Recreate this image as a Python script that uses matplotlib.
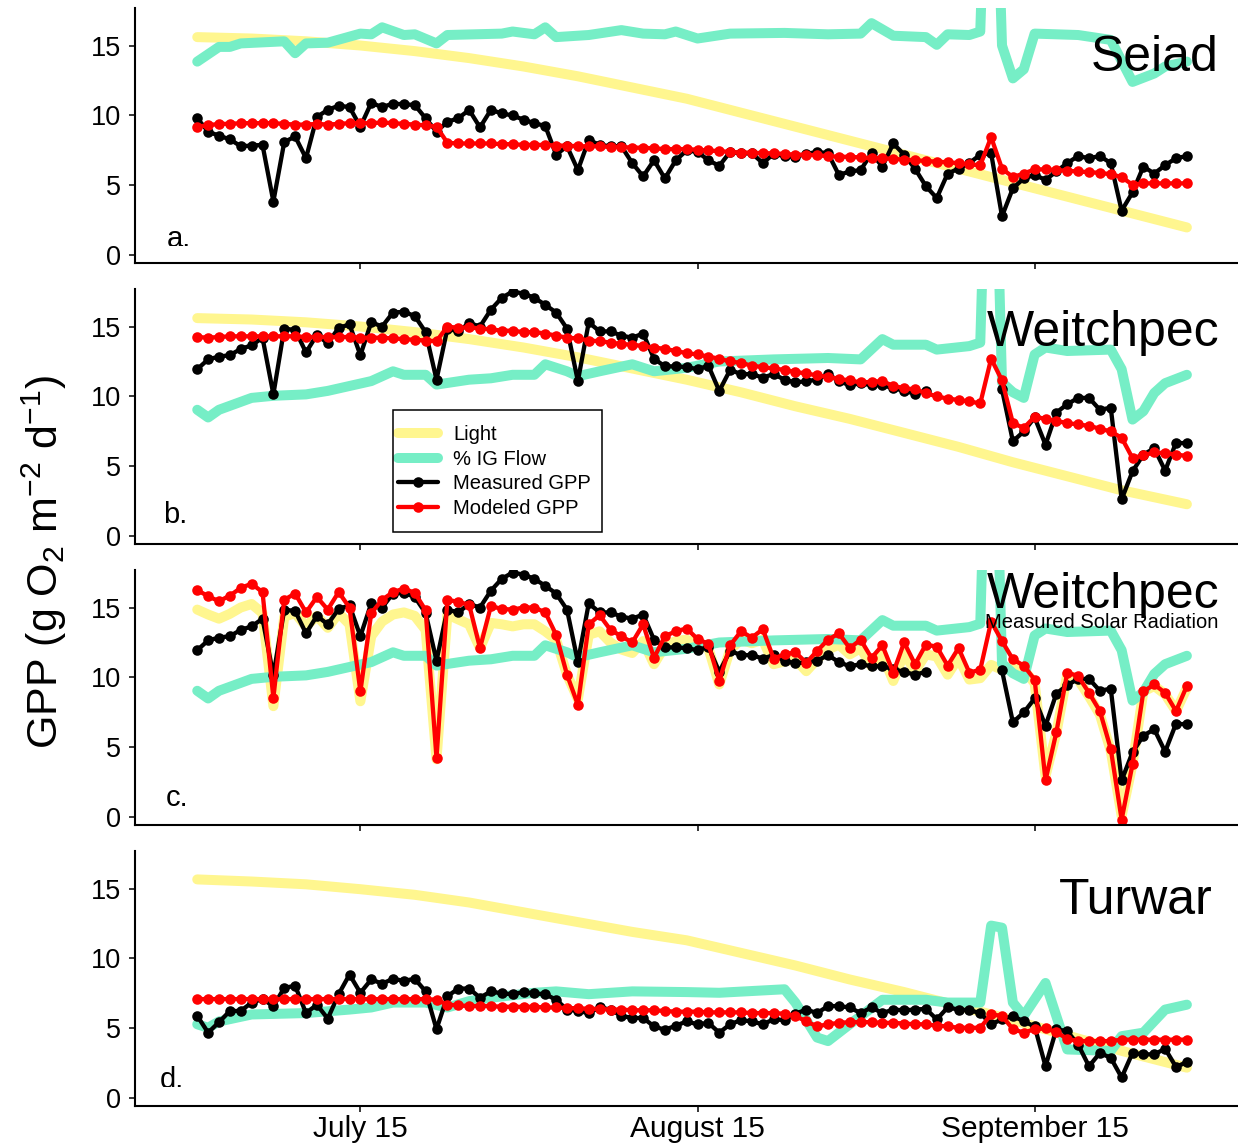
import numpy as np
import pandas as pd
import matplotlib
matplotlib.use("Agg")
import matplotlib.pyplot as plt
from matplotlib.lines import Line2D
from matplotlib.patches import Rectangle
from matplotlib.transforms import Bbox, TransformedBbox

plt.rcParams["font.family"] = ["Liberation Sans", "DejaVu Sans"]
plt.rcParams["mathtext.fontset"] = "custom"
plt.rcParams["mathtext.rm"] = "Liberation Sans"
plt.rcParams["mathtext.it"] = "Liberation Sans:italic"

start = pd.Timestamp("2013-06-30")
days = pd.date_range(start, periods=92, freq="D")

# clear-sky light (scaled), sampled every 5 days
light_days = [0, 5, 10, 15, 20, 25, 30, 35, 40, 45, 50, 55, 60, 65, 70, 75, 80, 85, 91]
light_seiad = [15.6, 15.5, 15.3, 15.0, 14.6, 14.1, 13.5, 12.8, 12.0, 11.2,
               10.2, 9.2, 8.2, 7.2, 6.2, 5.2, 4.2, 3.2, 2.0]
light_weitchpec = [15.6, 15.5, 15.3, 15.0, 14.6, 14.1, 13.5, 12.8, 12.0, 11.2,
                   10.3, 9.3, 8.4, 7.4, 6.4, 5.3, 4.3, 3.3, 2.3]
light_turwar = [15.65, 15.5, 15.3, 14.95, 14.55, 14.0, 13.3, 12.6, 11.9, 11.3,
                10.4, 9.5, 8.5, 7.6, 6.6, 5.6, 4.5, 3.4, 2.2]

# measured solar radiation at Weitchpec (daily, scaled)
light_measured = [14.85, 14.5, 14.2, 14.55, 15.0, 15.25, 14.6, 7.95, 14.35, 14.6,
                  13.65, 14.4, 13.55, 14.6, 13.8, 8.3, 12.95, 14.0, 14.5, 14.65,
                  14.4, 13.4, 4.15, 14.5, 14.15, 13.8, 12.1, 13.9, 13.8, 13.65,
                  13.8, 13.8, 13.3, 12.7, 10.2, 8.45, 13.05, 13.3, 12.5, 12.0,
                  11.75, 12.6, 10.95, 12.25, 12.6, 12.7, 12.35, 12.1, 9.5, 12.0,
                  12.7, 12.45, 12.7, 10.95, 11.15, 11.3, 10.45, 11.3, 12.0, 12.35,
                  11.65, 12.1, 10.8, 11.65, 9.75, 11.75, 10.45, 11.65, 11.5, 10.2,
                  11.4, 9.85, 9.95, 10.9, 10.55, 10.8, 10.55, 9.6, 2.95, 6.05,
                  10.2, 9.85, 8.65, 7.35, 4.75, 0.1, 3.8, 9.0, 9.4, 8.8,
                  7.6, 9.25]

# % inflow from groundwater (scaled)
flow_seiad_days = [0, 2, 3, 4, 8, 9, 10, 12, 15, 16, 17, 19, 20, 22, 23, 28, 29, 31,
                   32, 33, 36, 39, 41, 43, 44, 46, 49, 54, 58, 61, 62, 64, 67, 68,
                   69, 71, 72, 73, 74, 75, 76, 77, 81, 84, 86, 88, 89, 91]
flow_seiad = [13.85, 14.9, 14.9, 15.15, 15.3, 14.45, 15.15, 15.2, 15.85, 15.8, 16.3,
              15.75, 15.8, 15.15, 15.75, 15.85, 16.0, 15.8, 16.3, 15.6, 15.75, 16.1,
              15.85, 15.8, 16.0, 15.5, 15.85, 15.9, 15.8, 15.85, 16.6, 15.7, 15.6,
              15.05, 15.8, 15.75, 16.0, 40.0, 15.0, 12.65, 13.3, 15.85, 15.75, 15.4,
              12.4, 13.0, 13.5, 13.85]

flow_weitchpec_days = [0, 1, 2, 5, 7, 10, 12, 14, 16, 18, 19, 21, 22, 25, 27, 29, 31,
                       32, 34, 35, 37, 40, 42, 45, 48, 53, 58, 61, 63, 64, 67, 68, 71,
                       72, 73, 74, 75, 76, 77, 78, 80, 84, 85, 86, 87, 88, 89, 91]
flow_weitchpec = [9.05, 8.5, 9.05, 9.9, 10.05, 10.15, 10.4, 10.75, 11.1, 11.8, 11.55,
                  11.55, 10.85, 11.2, 11.3, 11.55, 11.55, 12.3, 11.8, 11.45, 11.8, 12.3,
                  11.8, 12.05, 12.5, 12.65, 12.75, 12.65, 14.1, 13.7, 13.7, 13.35, 13.6,
                  13.85, 40.0, 11.0, 10.3, 9.9, 13.0, 13.5, 13.25, 13.35, 11.95, 8.35,
                  8.95, 10.25, 10.95, 11.55]

flow_turwar_days = [0, 1, 2, 5, 10, 14, 16, 18, 21, 23, 25, 27, 31, 33, 36, 40, 45, 48,
                    54, 55, 57, 58, 60, 63, 67, 69, 72, 73, 74, 75, 76, 78, 80, 84, 85,
                    87, 89, 91]
flow_turwar = [5.3, 5.05, 5.5, 6.0, 6.1, 6.35, 6.5, 6.85, 6.85, 6.5, 6.95, 7.2, 7.55,
               7.65, 7.45, 7.65, 7.6, 7.55, 7.8, 6.85, 4.35, 4.1, 5.3, 7.05, 7.05, 6.85,
               6.85, 12.35, 12.2, 6.85, 5.9, 8.25, 3.5, 3.4, 4.45, 4.7, 6.35, 6.7]

# daily GPP (g O2 m-2 d-1)
gpp_seiad = [9.8, 8.85, 8.55, 8.3, 7.8, 7.85, 7.9, 3.85, 8.1, 8.5,
             6.95, 9.9, 10.4, 10.7, 10.6, 9.2, 10.9, 10.6, 10.85, 10.8,
             10.75, 9.8, 8.85, 9.55, 9.8, 10.4, 9.15, 10.4, 10.15, 10.0,
             9.7, 9.45, 9.25, 7.2, 7.8, 6.1, 8.25, 7.9, 7.8, 7.8,
             6.6, 5.65, 6.8, 5.5, 6.8, 7.5, 7.4, 6.8, 6.4, 7.4,
             7.3, 7.3, 6.6, 7.25, 7.1, 7.05, 7.25, 7.4, 7.3, 5.75,
             6.0, 6.1, 7.3, 6.35, 8.0, 7.2, 6.2, 4.95, 4.1, 5.85,
             6.2, 6.6, 7.2, 7.3, 2.8, 4.8, 5.5, 5.75, 5.4, 6.0,
             6.6, 7.1, 6.95, 7.1, 6.6, 3.2, 4.5, 6.35, 5.85, 6.45,
             6.95, 7.1]
model_seiad = [9.2, 9.3, 9.4, 9.4, 9.45, 9.45, 9.45, 9.45, 9.4, 9.35,
               9.35, 9.4, 9.35, 9.4, 9.45, 9.45, 9.45, 9.5, 9.45, 9.4,
               9.35, 9.3, 9.2, 8.05, 8.0, 8.0, 8.0, 8.0, 7.95, 7.95,
               7.9, 7.9, 7.9, 7.85, 7.85, 7.8, 7.8, 7.8, 7.75, 7.75,
               7.7, 7.7, 7.65, 7.6, 7.6, 7.6, 7.55, 7.5, 7.45, 7.4,
               7.35, 7.35, 7.3, 7.3, 7.25, 7.2, 7.2, 7.15, 7.1, 7.05,
               7.05, 7.0, 6.95, 6.95, 6.9, 6.85, 6.8, 6.75, 6.7, 6.65,
               6.6, 6.5, 6.45, 8.45, 6.2, 5.6, 5.85, 6.15, 6.15, 6.1,
               6.05, 6.0, 5.95, 5.9, 5.8, 5.6, 5.05, 5.15, 5.15, 5.15,
               5.15, 5.15]

gpp_weitchpec = [11.95, 12.65, 12.85, 12.95, 13.4, 13.65, 14.2, 10.15, 14.85, 14.75,
                 13.15, 14.4, 13.8, 14.9, 15.15, 12.95, 15.3, 15.0, 16.0, 16.05,
                 15.75, 14.6, 11.2, 14.85, 14.65, 15.25, 15.0, 16.2, 17.05, 17.5,
                 17.35, 17.05, 16.55, 16.0, 14.85, 11.1, 15.3, 14.65, 14.65, 14.35,
                 14.2, 14.5, 12.7, 12.15, 12.15, 12.1, 11.95, 12.2, 10.4, 11.9,
                 11.6, 11.6, 11.35, 11.6, 11.2, 11.0, 11.1, 11.2, 11.6, 11.1,
                 10.8, 10.95, 10.8, 10.8, 10.6, 10.4, 10.2, 10.4, np.nan, np.nan,
                 np.nan, np.nan, np.nan, np.nan, 10.5, 6.8, 7.5, 8.5, 6.55, 8.85,
                 9.45, 9.9, 9.9, 9.05, 9.2, 2.65, 4.65, 5.85, 6.3, 4.7,
                 6.7, 6.65]
model_weitchpec = [14.25, 14.2, 14.25, 14.3, 14.3, 14.3, 14.3, 14.3, 14.3, 14.3,
                   14.25, 14.25, 14.25, 14.25, 14.25, 14.2, 14.2, 14.2, 14.15, 14.1,
                   14.05, 14.0, 13.95, 15.0, 14.9, 14.95, 14.85, 14.8, 14.7, 14.7,
                   14.6, 14.6, 14.5, 14.35, 14.2, 14.15, 14.0, 13.95, 13.85, 13.75,
                   13.7, 13.6, 13.5, 13.4, 13.25, 13.1, 13.0, 12.85, 12.7, 12.5,
                   12.4, 12.2, 12.1, 12.0, 11.9, 11.75, 11.65, 11.5, 11.4, 11.25,
                   11.15, 11.0, 11.05, 11.1, 10.75, 10.6, 10.5, 10.25, 10.0, 9.85,
                   9.75, 9.65, 9.5, 12.7, 11.15, 8.1, 7.75, 8.55, 8.4, 8.25,
                   8.1, 8.0, 7.9, 7.7, 7.5, 7.05, 5.6, 5.8, 6.0, 5.95,
                   5.85, 5.75]
model_weitchpec_solar = [16.25, 15.8, 15.45, 15.85, 16.4, 16.7, 16.1, 8.55, 15.55, 16.0,
                         14.65, 15.75, 14.85, 16.1, 15.0, 9.0, 14.6, 15.55, 16.1, 16.35,
                         16.05, 14.8, 4.25, 15.55, 15.4, 15.2, 12.1, 15.1, 14.9, 14.85,
                         15.0, 15.0, 14.65, 13.05, 10.2, 8.05, 13.8, 14.45, 13.4, 12.95,
                         12.5, 13.8, 11.4, 12.95, 13.3, 13.5, 12.75, 12.4, 9.75, 12.3,
                         13.3, 12.85, 13.45, 11.35, 11.65, 11.8, 11.05, 11.9, 12.7, 13.15,
                         12.1, 12.7, 11.4, 12.3, 10.35, 12.5, 10.95, 12.35, 12.2, 10.85,
                         12.1, 10.35, 10.55, 14.0, 12.6, 11.3, 10.85, 9.85, 2.65, 6.1,
                         10.35, 10.1, 8.9, 7.6, 4.9, -0.15, 3.8, 9.0, 9.5, 8.9,
                         7.6, 9.4]

gpp_turwar = [5.9, 4.7, 5.45, 6.25, 6.25, 6.85, 7.1, 6.6, 7.9, 8.05,
              6.1, 6.7, 5.7, 7.45, 8.85, 7.55, 8.5, 8.2, 8.55, 8.4,
              8.55, 7.65, 4.95, 7.3, 7.85, 7.85, 7.2, 7.65, 7.5, 7.45,
              7.6, 7.5, 7.45, 7.05, 6.35, 6.25, 6.1, 6.5, 6.35, 5.9,
              5.75, 5.75, 5.15, 4.9, 5.2, 5.5, 5.3, 5.4, 4.7, 5.3,
              5.6, 5.5, 5.3, 5.65, 5.6, 6.05, 6.35, 6.1, 6.6, 6.6,
              6.5, 6.1, 6.5, 6.1, 6.35, 6.3, 6.35, 6.4, 5.65, 6.5,
              6.35, 6.3, 6.1, 5.3, 5.65, 5.9, 5.5, 5.15, 2.3, 4.95,
              4.8, 3.85, 2.3, 3.25, 2.9, 1.5, 3.25, 3.15, 3.15, 3.55,
              2.25, 2.6]
model_turwar = [7.1, 7.1, 7.1, 7.1, 7.1, 7.1, 7.1, 7.1, 7.1, 7.1,
                7.1, 7.1, 7.1, 7.1, 7.1, 7.1, 7.1, 7.1, 7.1, 7.1,
                7.1, 7.1, 7.05, 6.7, 6.65, 6.6, 6.6, 6.6, 6.55, 6.55,
                6.55, 6.55, 6.5, 6.5, 6.45, 6.45, 6.4, 6.4, 6.35, 6.35,
                6.3, 6.3, 6.3, 6.25, 6.2, 6.2, 6.2, 6.15, 6.15, 6.15,
                6.15, 6.1, 6.1, 6.1, 6.05, 5.9, 5.5, 5.15, 5.3, 5.4,
                5.45, 5.45, 5.45, 5.4, 5.4, 5.35, 5.3, 5.3, 5.2, 5.15,
                5.05, 5.05, 5.05, 6.0, 5.9, 4.95, 4.7, 4.95, 5.0, 4.75,
                4.25, 4.1, 4.1, 4.1, 4.1, 4.2, 4.2, 4.2, 4.2, 4.2,
                4.2, 4.2]

LIGHT = "#FFF68F"
FLOW = "#76EEC6"


def on_days(offsets):
    return start + pd.to_timedelta(offsets, unit="D")


fig = plt.figure(figsize=(12.38, 11.47), dpi=100)
left = 134.5 / 1238
width = 1 - left
height = 255 / 1147
bottoms = [1 - 263 / 1147, 1 - 544 / 1147, 1 - 825 / 1147, 1 - 1106 / 1147]
axes = [fig.add_axes([left, b, width, height]) for b in bottoms]

panels = [
    (on_days(light_days), light_seiad, flow_seiad_days, flow_seiad, gpp_seiad, model_seiad),
    (on_days(light_days), light_weitchpec, flow_weitchpec_days, flow_weitchpec,
     gpp_weitchpec, model_weitchpec),
    (days, light_measured, flow_weitchpec_days, flow_weitchpec,
     gpp_weitchpec, model_weitchpec_solar),
    (on_days(light_days), light_turwar, flow_turwar_days, flow_turwar, gpp_turwar, model_turwar),
]

thick = dict(lw=7.2, solid_capstyle="round", solid_joinstyle="round")
dots = dict(lw=3.1, marker="o", ms=7.6, mew=0, solid_capstyle="round", solid_joinstyle="round")

for ax, (lx, ly, fd, fv, meas, mod) in zip(axes, panels):
    ax.plot(lx, ly, color=LIGHT, **thick)
    ax.plot(on_days(fd), fv, color=FLOW, **thick)
    ax.plot(days, meas, color="black", **dots)
    ax.plot(days, mod, color="red", **dots)

    ax.set_xlim(start - pd.Timedelta(days=5.77), start + pd.Timedelta(days=95.7))
    ax.set_ylim(-0.54, 17.68)
    ax.set_yticks([0, 5, 10, 15])
    ax.set_xticks(pd.to_datetime(["2013-07-15", "2013-08-15", "2013-09-15"]))
    ax.set_xticklabels(["July 15", "August 15", "September 15"])
    for side in ("top", "right"):
        ax.spines[side].set_visible(False)
    for side in ("left", "bottom"):
        ax.spines[side].set_linewidth(1.5)
    ax.tick_params(direction="out", length=4.3, width=1.1)
    ax.tick_params(axis="y", labelsize=19.5, pad=5.5)
    ax.tick_params(axis="x", labelsize=21.5, pad=2)

for ax in axes[:3]:
    ax.tick_params(axis="x", labelbottom=False)

# site names
axes[0].text(0.982, 0.753, "Seiad", transform=axes[0].transAxes, fontsize=36,
             ha="right", va="baseline")
axes[1].text(0.983, 0.776, "Weitchpec", transform=axes[1].transAxes, fontsize=36,
             ha="right", va="baseline")
axes[2].text(0.983, 0.851, "Weitchpec", transform=axes[2].transAxes, fontsize=36,
             ha="right", va="baseline")
axes[2].text(0.982, 0.771, "Measured Solar Radiation", transform=axes[2].transAxes,
             fontsize=14.5, ha="right", va="baseline")
axes[3].text(0.977, 0.753, "Turwar", transform=axes[3].transAxes, fontsize=36,
             ha="right", va="baseline")

# panel letters (a. and d. sit on the clip line)
letter_pos = [(0.029, 0.063, 246), (0.026, 0.082, None), (0.028, 0.075, None),
              (0.023, 0.071, 1087)]
for ax, letter, (x, y, cut) in zip(axes, "abcd", letter_pos):
    t = ax.text(x, y, letter + ".", transform=ax.transAxes, fontsize=21,
                ha="left", va="baseline")
    if cut is not None:
        box = TransformedBbox(Bbox([[0, 1 - cut / 1147], [1, 1]]), fig.transFigure)
        t.set_clip_box(box)
        t.set_clip_on(True)

# legend in panel b
handles = [
    Line2D([], [], color=LIGHT, **thick),
    Line2D([], [], color=FLOW, **thick),
    Line2D([], [], color="black", **dots),
    Line2D([], [], color="red", **dots),
]
labels = ["Light", "% IG Flow", "Measured GPP", "Modeled GPP"]
axes[1].legend(handles, labels, loc="upper left", frameon=False, fontsize=14.5,
               bbox_to_anchor=(398 / 1238, 1 - 425 / 1147), bbox_transform=fig.transFigure,
               borderpad=0, borderaxespad=0, handlelength=2.0, handletextpad=0.75,
               labelspacing=0.28, numpoints=1)
fig.patches.append(Rectangle((393 / 1238, 1 - 532 / 1147), 209 / 1238, 122 / 1147,
                             transform=fig.transFigure, fill=False, ec="black", lw=1.1))

fig.text(0.036, 0.51, "GPP (g O$_2$ m$^{-2}$ d$^{-1}$)", rotation=90, fontsize=31,
         ha="center", va="center")

fig.savefig("out.png", dpi=100)
